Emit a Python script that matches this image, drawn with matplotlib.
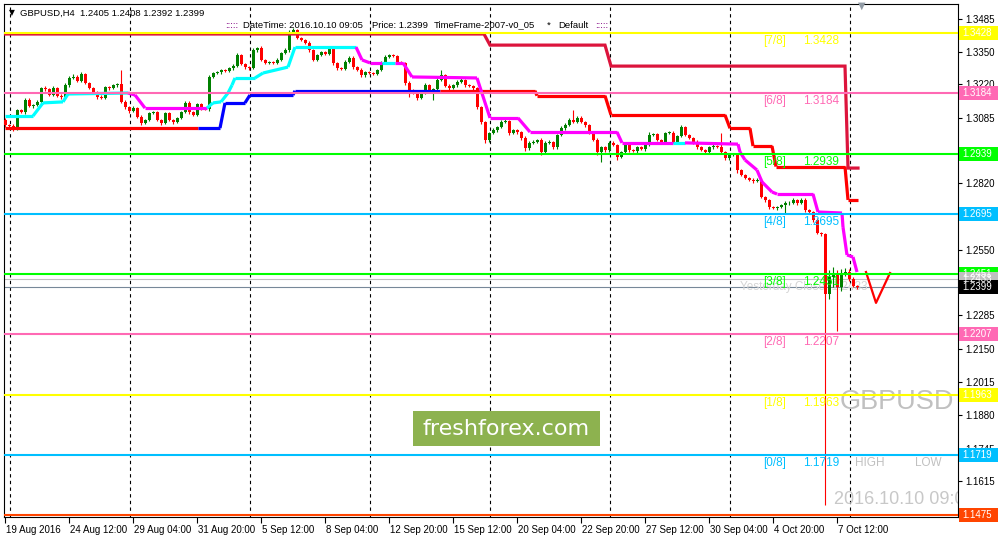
import matplotlib
matplotlib.use("Agg")
import numpy as np
import matplotlib.pyplot as plt
from matplotlib import transforms
from matplotlib.patches import Rectangle

# ---- candle data (GBPUSD H4, 19 Aug 20:00 .. 10 Oct 08:00) ----
first_open = 1.3076
closes = [
    1.3055, 1.3051, 1.3043, 1.3116, 1.3108, 1.3157, 1.3132, 1.3136, 1.3149, 1.3205,
    1.3200, 1.3177, 1.3205, 1.3173, 1.3169, 1.3217, 1.3246, 1.3250, 1.3234, 1.3262,
    1.3226, 1.3205, 1.3189, 1.3169, 1.3165, 1.3209, 1.3205, 1.3217, 1.3221, 1.3149,
    1.3128, 1.3112, 1.3124, 1.3088, 1.3064, 1.3076, 1.3104, 1.3108, 1.3076, 1.3064,
    1.3104, 1.3076, 1.3068, 1.3084, 1.3108, 1.3145, 1.3108, 1.3096, 1.3140, 1.3124,
    1.3120, 1.3250, 1.3266, 1.3270, 1.3278, 1.3274, 1.3286, 1.3294, 1.3339, 1.3303,
    1.3290, 1.3286, 1.3359, 1.3367, 1.3319, 1.3307, 1.3311, 1.3307, 1.3319, 1.3347,
    1.3359, 1.3428, 1.3440, 1.3408, 1.3400, 1.3388, 1.3359, 1.3319, 1.3339, 1.3351,
    1.3343, 1.3367, 1.3307, 1.3286, 1.3284, 1.3311, 1.3327, 1.3290, 1.3280, 1.3258,
    1.3270, 1.3266, 1.3262, 1.3278, 1.3307, 1.3331, 1.3339, 1.3335, 1.3311, 1.3307,
    1.3226, 1.3197, 1.3185, 1.3165, 1.3185, 1.3217, 1.3195, 1.3200, 1.3238, 1.3258,
    1.3215, 1.3205, 1.3217, 1.3230, 1.3238, 1.3217, 1.3213, 1.3205, 1.3128, 1.3068,
    1.2995, 1.3023, 1.3035, 1.3047, 1.3068, 1.3072, 1.3023, 1.3035, 1.3027, 1.3003,
    1.2962, 1.2983, 1.2987, 1.2995, 1.2946, 1.2983, 1.2987, 1.2966, 1.3015, 1.3043,
    1.3055, 1.3076, 1.3068, 1.3084, 1.3068, 1.3055, 1.3027, 1.2995, 1.2946, 1.2966,
    1.2954, 1.2983, 1.2975, 1.2926, 1.2946, 1.2975, 1.2954, 1.2950, 1.2966, 1.2958,
    1.2975, 1.3015, 1.3019, 1.2995, 1.2987, 1.3023, 1.3025, 1.2987, 1.3011, 1.3047,
    1.3015, 1.3003, 1.2987, 1.2966, 1.2954, 1.2946, 1.2966, 1.2970, 1.2968, 1.2946,
    1.2920, 1.2934, 1.2938, 1.2873, 1.2853, 1.2841, 1.2833, 1.2830, 1.2834, 1.2764,
    1.2752, 1.2723, 1.2719, 1.2723, 1.2731, 1.2739, 1.2741, 1.2752, 1.2739, 1.2752,
    1.2711, 1.2703, 1.2671, 1.2618, 1.2614, 1.2370, 1.2440, 1.2456, 1.2400, 1.2452,
    1.2460, 1.2430, 1.2405, 1.2399,
]
# wick lengths in pips above / below the body
up_wick = [
    6, 5, 8, 6, 5, 7, 6, 5, 8, 6,
    8, 6, 7, 5, 6, 8, 6, 10, 6, 8,
    6, 5, 6, 5, 6, 5, 6, 5, 6, 57,
    6, 5, 8, 4, 6, 5, 6, 5, 6, 4,
    6, 5, 4, 5, 6, 8, 6, 5, 6, 4,
    5, 8, 6, 5, 6, 4, 6, 8, 10, 6,
    5, 4, 8, 6, 8, 5, 4, 5, 6, 6,
    8, 12, 8, 6, 5, 4, 6, 5, 6, 6,
    5, 8, 6, 5, 4, 6, 8, 6, 5, 6,
    5, 4, 6, 5, 6, 8, 6, 6, 5, 4,
    5, 6, 5, 4, 6, 8, 6, 5, 10, 20,
    6, 5, 6, 8, 6, 5, 4, 6, 5, 6,
    5, 6, 8, 6, 8, 6, 5, 4, 6, 5,
    6, 8, 6, 5, 6, 8, 6, 5, 6, 8,
    10, 8, 40, 6, 8, 5, 6, 5, 6, 6,
    5, 8, 6, 5, 6, 8, 6, 5, 6, 5,
    6, 12, 6, 5, 4, 6, 8, 6, 5, 10,
    6, 5, 4, 6, 5, 4, 6, 8, 6, 55,
    4, 8, 6, 5, 6, 5, 4, 6, 5, 6,
    5, 4, 6, 5, 6, 8, 6, 8, 5, 6,
    6, 5, 4, 6, 5, 5, 30, 25, 14, 20,
    15, 12, 8, 3,
]
down_wick = [
    6, 8, 12, 6, 5, 6, 5, 6, 5, 6,
    5, 6, 5, 6, 8, 5, 6, 5, 6, 5,
    6, 5, 6, 8, 6, 5, 6, 5, 6, 6,
    8, 6, 5, 6, 8, 5, 6, 5, 6, 8,
    5, 6, 8, 5, 6, 5, 8, 6, 5, 6,
    5, 8, 6, 5, 6, 5, 4, 6, 5, 6,
    8, 6, 5, 6, 5, 6, 5, 6, 5, 6,
    5, 6, 5, 6, 5, 6, 8, 6, 5, 6,
    5, 6, 8, 6, 5, 5, 6, 8, 5, 10,
    8, 6, 5, 6, 5, 6, 5, 6, 5, 6,
    8, 28, 6, 8, 5, 6, 6, 38, 5, 6,
    6, 8, 5, 6, 5, 6, 5, 6, 8, 10,
    12, 8, 5, 6, 5, 6, 8, 5, 6, 8,
    10, 6, 5, 6, 12, 6, 5, 8, 6, 5,
    6, 5, 5, 6, 5, 6, 8, 6, 12, 40,
    8, 6, 5, 12, 6, 5, 6, 5, 6, 5,
    6, 5, 5, 6, 8, 6, 5, 6, 5, 6,
    5, 6, 8, 6, 5, 6, 5, 6, 5, 6,
    8, 6, 5, 10, 6, 5, 6, 8, 5, 6,
    8, 6, 5, 6, 5, 32, 6, 5, 6, 5,
    6, 8, 10, 6, 8, 854, 20, 40, 179, 15,
    10, 8, 6, 7,
]

tick_bars = [0, 16, 32, 48, 64, 80, 96, 112, 128, 144, 160, 176, 192, 208]
tick_labels = ["19 Aug 2016", "24 Aug 12:00", "29 Aug 04:00", "31 Aug 20:00",
               "5 Sep 12:00", "8 Sep 04:00", "12 Sep 20:00", "15 Sep 12:00",
               "20 Sep 04:00", "22 Sep 20:00", "27 Sep 12:00", "30 Sep 04:00",
               "4 Oct 20:00", "7 Oct 12:00"]
week_starts = [1, 31, 61, 91, 121, 151, 181, 211]
price_ticks = [1.3485, 1.3350, 1.3220, 1.3085, 1.2955, 1.2820, 1.2685, 1.2550,
               1.2420, 1.2285, 1.2150, 1.2015, 1.1880, 1.1745, 1.1615, 1.1480]
# scale labels fully covered by the price boxes in the terminal
hidden_ticks = [1.2955, 1.2420, 1.1480]

# Murrey math levels
levels = [1.3428, 1.3184, 1.2939, 1.2695, 1.2451, 1.2207, 1.1963, 1.1719, 1.1475]
level_names = ["[7/8]", "[6/8]", "[5/8]", "[4/8]", "[3/8]", "[2/8]", "[1/8]", "[0/8]", ""]
level_colors = ["#ffff00", "#ff69b4", "#00ff00", "#00bfff", "#00ff00",
                "#ff69b4", "#ffff00", "#00bfff", "#ff4500"]
yesterday_close = 1.2433
bid = 1.2399

# trailing resistance (crimson)
trail_bars = [0, 119.75, 121.25, 150, 151.5, 210, 210.75, 213.25]
trail_prices = [1.3424, 1.3424, 1.3379, 1.3379, 1.3294, 1.3294, 1.2881, 1.2881]

# support line, trend of each segment: 1 = blue, -1 = red
support_bars = [0, 48.25, 53.75, 55, 60, 61.25, 72, 72.5, 108.75, 132.5, 133,
                150, 151.5, 180, 181.25, 186.25, 187, 191.75, 192.75, 210, 210.75, 213.25]
support_prices = [1.3043, 1.3043, 1.3043, 1.3145, 1.3145, 1.3177, 1.3177, 1.3194,
                  1.3194, 1.3194, 1.3174, 1.3174, 1.3096, 1.3096, 1.3042, 1.3042,
                  1.2970, 1.2970, 1.2887, 1.2887, 1.2752, 1.2752]
support_trend = [-1, 1, 1, 1, 1, 1, 1, 1, -1, -1, -1, -1, -1, -1, -1, -1, -1,
                 -1, -1, -1, -1]

# stop line, trend of each segment: 1 = cyan, -1 = magenta
stop_bars = [0, 7, 9.5, 14.5, 15.75, 30.75, 32.5, 35, 50.5, 52, 54, 55.75, 56.75,
             57.5, 62.5, 64.5, 70.75, 72.5, 87.75, 89.25, 91.25, 94.25, 97.5, 99.5,
             101.75, 118, 121.25, 128.25, 131.25, 153, 154.25, 167, 170, 183.25,
             183.75, 185, 188, 189.25, 191.75, 193, 202, 203.25, 209.25, 209.5,
             210.5, 212, 213]
stop_prices = [1.3092, 1.3092, 1.3145, 1.3149, 1.3181, 1.3185, 1.3177, 1.3124,
               1.3124, 1.3145, 1.3149, 1.3185, 1.3217, 1.3246, 1.3246, 1.3266,
               1.3290, 1.3371, 1.3371, 1.3319, 1.3307, 1.3307, 1.3307, 1.3307,
               1.3250, 1.3246, 1.3084, 1.3084, 1.3027, 1.3027, 1.2983, 1.2983,
               1.2983, 1.2978, 1.2946, 1.2914, 1.2873, 1.2825, 1.2784, 1.2776,
               1.2776, 1.2703, 1.2699, 1.2642, 1.2529, 1.2521, 1.2460]
stop_trend = [1, 1, 1, 1, 1, -1, -1, -1, 1, 1, 1, 1, 1, 1, 1, 1, 1, 1,
              -1, -1, -1, 1, -1, -1, -1, -1, -1, -1, -1, -1, -1, 1,
              -1, -1, -1, -1, -1, -1, -1, -1, -1, -1, -1, -1, -1, -1]

# projected swing
swing_bars = [215.25, 217.75, 221.25]
swing_prices = [1.2460, 1.2335, 1.2456]

PIP = 0.0001
W, H = 1001, 541
FONT = "Liberation Sans"

opens = np.array([first_open] + closes[:-1])
closes_a = np.array(closes)
highs = np.maximum(opens, closes_a) + np.array(up_wick) * PIP
lows = np.minimum(opens, closes_a) - np.array(down_wick) * PIP
bars = np.arange(len(closes))
candle_colors = np.where(closes_a >= opens, "#008000", "#ff0000")

fig = plt.figure(figsize=(W / 100, H / 100), dpi=100)
fig.patch.set_facecolor("white")
ax = fig.add_axes([4 / W, 24 / H, 954 / W, 513 / H])
ax.set_xlim(-0.25, 238.25)
ax.set_ylim(1.14678, 1.35455)

# weekly separators
for b in week_starts:
    ax.axvline(b + 0.25, color="black", lw=0.8, ls=(0, (3, 3)), zorder=1)

# candles
ax.vlines(bars, lows, highs, colors=candle_colors, lw=0.8, zorder=3)
ax.bar(bars, np.maximum(np.abs(closes_a - opens), 0.00025),
       bottom=np.minimum(opens, closes_a), width=0.75, color=candle_colors,
       linewidth=0, zorder=3)

# indicator lines
ax.plot(trail_bars, trail_prices, color="#dc143c", lw=2.3, zorder=4,
        solid_joinstyle="miter")
for i, t in enumerate(support_trend):
    ax.plot(support_bars[i:i + 2], support_prices[i:i + 2],
            color="#0000ff" if t > 0 else "#ff0000", lw=2.3, zorder=4,
            solid_capstyle="butt")
for i, t in enumerate(stop_trend):
    ax.plot(stop_bars[i:i + 2], stop_prices[i:i + 2],
            color="#00ffff" if t > 0 else "#ff00ff", lw=2.3, zorder=4,
            solid_capstyle="butt")
ax.plot(swing_bars, swing_prices, color="#ff0000", lw=1.6, zorder=4, clip_on=False)

# level lines and labels
down8 = transforms.ScaledTranslation(0, -8 / 100, fig.dpi_scale_trans)
for lvl, name, col in zip(levels, level_names, level_colors):
    ax.axhline(lvl, color=col, lw=1.5, zorder=5)
    if name:
        ax.text(189.5, lvl, name, color=col, fontsize=8.5, family=FONT,
                va="center", ha="left", zorder=6,
                transform=ax.transData + down8)
        ax.text(199.5, lvl, f"{lvl:.4f}", color=col, fontsize=8.5, family=FONT,
                va="center", ha="left", zorder=6,
                transform=ax.transData + down8)
ax.text(212.5, levels[7], "HIGH", color="#c0c0c0", fontsize=8.5, family=FONT,
        va="center", transform=ax.transData + down8, zorder=6)
ax.text(227.5, levels[7], "LOW", color="#c0c0c0", fontsize=8.5, family=FONT,
        va="center", transform=ax.transData + down8, zorder=6)
ax.axhline(yesterday_close, color="#c0c0c0", lw=0.8, zorder=2)
ax.axhline(bid, color="#778899", lw=0.8, zorder=2)
ax.text(183.75, bid, "Yesterday Close: 1.2433", color="#d4d4d4", fontsize=8.5,
        family=FONT, va="center", zorder=2)

# watermarks
ax.text((840 - 4) / 954, (517 - 402) / 513, "GBPUSD", transform=ax.transAxes,
        color="#c0c0c0", fontsize=19.5, family=FONT, va="center", zorder=1)
ax.text((834 - 4) / 954, (517 - 500) / 513, "2016.10.10 09:05", transform=ax.transAxes,
        color="#c8c8c8", fontsize=13, family=FONT, va="center", zorder=1, clip_on=True)

# axes styling
for s in ax.spines.values():
    s.set_color("black")
    s.set_linewidth(0.8)
ax.yaxis.tick_right()
ax.set_yticks(price_ticks)
ax.set_yticklabels(["" if p in hidden_ticks else f"{p:.4f}" for p in price_ticks])
ax.tick_params(axis="y", length=3, pad=2, labelsize=7, width=0.8)
ax.set_xticks(tick_bars)
ax.set_xticklabels(tick_labels)
ax.tick_params(axis="x", length=4, pad=2, labelsize=7, width=0.8)
shift = transforms.ScaledTranslation(1.5 / 100, 0, fig.dpi_scale_trans)
for lab in ax.get_xticklabels():
    lab.set_ha("left")
    lab.set_family(FONT)
    lab.set_transform(lab.get_transform() + shift)
for lab in ax.get_yticklabels():
    lab.set_family(FONT)

# colored price boxes on the right scale
box_tr = transforms.blended_transform_factory(ax.transAxes, ax.transData)
box_h = 14 * (ax.get_ylim()[1] - ax.get_ylim()[0]) / 513
box_items = list(zip(levels, level_colors))
box_items.insert(5, (yesterday_close, "#c0c0c0"))
box_items.insert(6, (bid, "#000000"))
for val, col in box_items:
    ax.add_patch(Rectangle((1.001, val - box_h / 2), 0.041, box_h, transform=box_tr,
                           facecolor=col, edgecolor="none", clip_on=False, zorder=7))
    ax.text(1.0045, val, f"{val:.4f}", transform=box_tr, color="white", fontsize=7,
            family=FONT, va="center", ha="left", clip_on=False, zorder=8)

# header texts
fig.text(9 / W, 1 - 13 / H, "\u25bc", fontsize=5.5, va="center", color="black")
fig.text(20 / W, 1 - 13 / H, "GBPUSD,H4  1.2405 1.2408 1.2392 1.2399", fontsize=6.8,
         family=FONT, va="center")
info = [(225, ":::::", "#800080"), (243, "DateTime: 2016.10.10 09:05", "black"),
        (372, "Price: 1.2399", "black"), (434, "TimeFrame-2007-v0_05", "black"),
        (547, "*", "black"), (558, "Default", "black"), (595, ":::::", "#800080")]
for x, s, c in info:
    fig.text(x / W, 1 - 25 / H, s, fontsize=6.8, family=FONT, va="center", color=c)
fig.text(862 / W, 1 - 6 / H, "\u25bc", fontsize=7, ha="center", va="center",
         color="#909aa4")

# freshforex badge
fig.add_artist(Rectangle((413 / W, 1 - 446 / H), 187 / W, 35 / H,
                         transform=fig.transFigure, facecolor="#8db24f",
                         edgecolor="none", zorder=10))
fig.text(506 / W, 1 - 429 / H, "freshforex.com", fontsize=16, color="white",
         family="DejaVu Sans", ha="center", va="center", zorder=11)

fig.savefig("out.png", dpi=100)
